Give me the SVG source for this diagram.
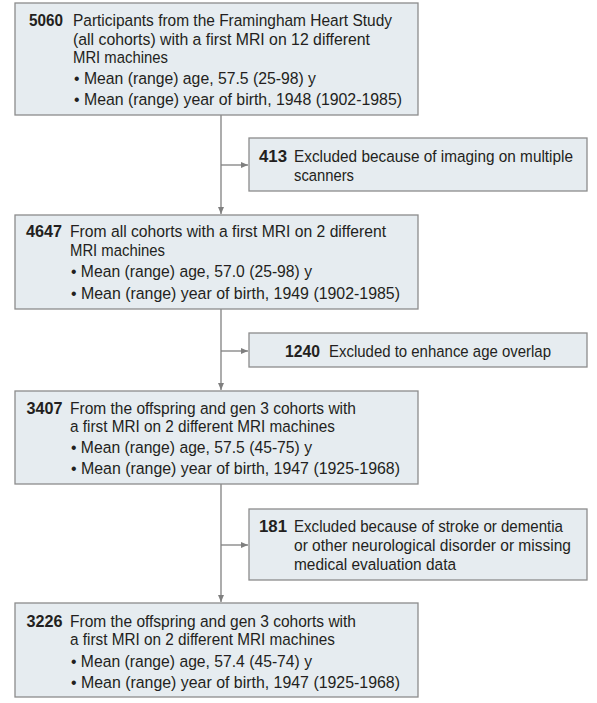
<svg xmlns="http://www.w3.org/2000/svg" width="597" height="703" viewBox="0 0 597 703">
<defs>
<marker id="ah" markerWidth="8" markerHeight="8" refX="7" refY="4" orient="auto" markerUnits="userSpaceOnUse">
<path d="M0,1 L7,4 L0,7 Z" fill="#7f7f7f"/>
</marker>
<style>
.box{fill:#e6ecf0;stroke:#8c8c8c;stroke-width:1.3}
.t{font-family:"Liberation Sans",Arial,sans-serif;font-size:16.3px;fill:#231f20}
.b{font-weight:bold}
.c{stroke:#808080;stroke-width:1.3;fill:none}
</style>
</defs>
<rect width="597" height="703" fill="#fff"/>
<g id="connectors">
<line class="c" x1="221" y1="115" x2="221" y2="214" marker-end="url(#ah)"/>
<line class="c" x1="221" y1="165" x2="248" y2="165" marker-end="url(#ah)"/>
<line class="c" x1="221" y1="309" x2="221" y2="390" marker-end="url(#ah)"/>
<line class="c" x1="221" y1="351" x2="248" y2="351" marker-end="url(#ah)"/>
<line class="c" x1="221" y1="484" x2="221" y2="602" marker-end="url(#ah)"/>
<line class="c" x1="221" y1="545" x2="248" y2="545" marker-end="url(#ah)"/>
</g>
<g id="n5060">
<rect class="box" x="15" y="3" width="403" height="112"/>
<text class="t b" x="29" y="26" textLength="34" lengthAdjust="spacingAndGlyphs">5060</text>
<text class="t" x="73" y="26" textLength="319" lengthAdjust="spacingAndGlyphs">Participants from the Framingham Heart Study</text>
<text class="t" x="73" y="45" textLength="297" lengthAdjust="spacingAndGlyphs">(all cohorts) with a first MRI on 12 different</text>
<text class="t" x="73" y="63" textLength="95" lengthAdjust="spacingAndGlyphs">MRI machines</text>
<text class="t" x="74" y="84" textLength="242" lengthAdjust="spacingAndGlyphs">• Mean (range) age, 57.5 (25-98) y</text>
<text class="t" x="74" y="105" textLength="328" lengthAdjust="spacingAndGlyphs">• Mean (range) year of birth, 1948 (1902-1985)</text>
</g>
<g id="n413">
<rect class="box" x="249" y="138" width="338" height="53"/>
<text class="t b" x="259" y="162" textLength="28" lengthAdjust="spacingAndGlyphs">413</text>
<text class="t" x="294" y="162" textLength="279" lengthAdjust="spacingAndGlyphs">Excluded because of imaging on multiple</text>
<text class="t" x="294" y="181" textLength="60" lengthAdjust="spacingAndGlyphs">scanners</text>
</g>
<g id="n4647">
<rect class="box" x="15" y="215" width="403" height="94"/>
<text class="t b" x="26" y="237" textLength="36" lengthAdjust="spacingAndGlyphs">4647</text>
<text class="t" x="70" y="237" textLength="316" lengthAdjust="spacingAndGlyphs">From all cohorts with a first MRI on 2 different</text>
<text class="t" x="70" y="256" textLength="95" lengthAdjust="spacingAndGlyphs">MRI machines</text>
<text class="t" x="71" y="277" textLength="241" lengthAdjust="spacingAndGlyphs">• Mean (range) age, 57.0 (25-98) y</text>
<text class="t" x="71" y="299" textLength="329" lengthAdjust="spacingAndGlyphs">• Mean (range) year of birth, 1949 (1902-1985)</text>
</g>
<g id="n1240">
<rect class="box" x="249" y="333" width="338" height="34"/>
<text class="t b" x="285" y="357" textLength="35" lengthAdjust="spacingAndGlyphs">1240</text>
<text class="t" x="329" y="357" textLength="222" lengthAdjust="spacingAndGlyphs">Excluded to enhance age overlap</text>
</g>
<g id="n3407">
<rect class="box" x="15" y="391" width="403" height="93"/>
<text class="t b" x="26.5" y="414" textLength="36" lengthAdjust="spacingAndGlyphs">3407</text>
<text class="t" x="70" y="414" textLength="286" lengthAdjust="spacingAndGlyphs">From the offspring and gen 3 cohorts with</text>
<text class="t" x="70" y="432" textLength="265" lengthAdjust="spacingAndGlyphs">a first MRI on 2 different MRI machines</text>
<text class="t" x="71" y="453" textLength="241" lengthAdjust="spacingAndGlyphs">• Mean (range) age, 57.5 (45-75) y</text>
<text class="t" x="71" y="474" textLength="329" lengthAdjust="spacingAndGlyphs">• Mean (range) year of birth, 1947 (1925-1968)</text>
</g>
<g id="n181">
<rect class="box" x="249" y="509" width="338" height="71"/>
<text class="t b" x="259" y="532" textLength="28" lengthAdjust="spacingAndGlyphs">181</text>
<text class="t" x="294" y="532" textLength="269" lengthAdjust="spacingAndGlyphs">Excluded because of stroke or dementia</text>
<text class="t" x="294" y="551" textLength="277" lengthAdjust="spacingAndGlyphs">or other neurological disorder or missing</text>
<text class="t" x="294" y="570" textLength="162" lengthAdjust="spacingAndGlyphs">medical evaluation data</text>
</g>
<g id="n3226">
<rect class="box" x="15" y="603" width="403" height="94"/>
<text class="t b" x="26.5" y="627" textLength="36" lengthAdjust="spacingAndGlyphs">3226</text>
<text class="t" x="70" y="627" textLength="286" lengthAdjust="spacingAndGlyphs">From the offspring and gen 3 cohorts with</text>
<text class="t" x="70" y="645" textLength="265" lengthAdjust="spacingAndGlyphs">a first MRI on 2 different MRI machines</text>
<text class="t" x="71" y="667" textLength="241" lengthAdjust="spacingAndGlyphs">• Mean (range) age, 57.4 (45-74) y</text>
<text class="t" x="71" y="688" textLength="329" lengthAdjust="spacingAndGlyphs">• Mean (range) year of birth, 1947 (1925-1968)</text>
</g>
</svg>
